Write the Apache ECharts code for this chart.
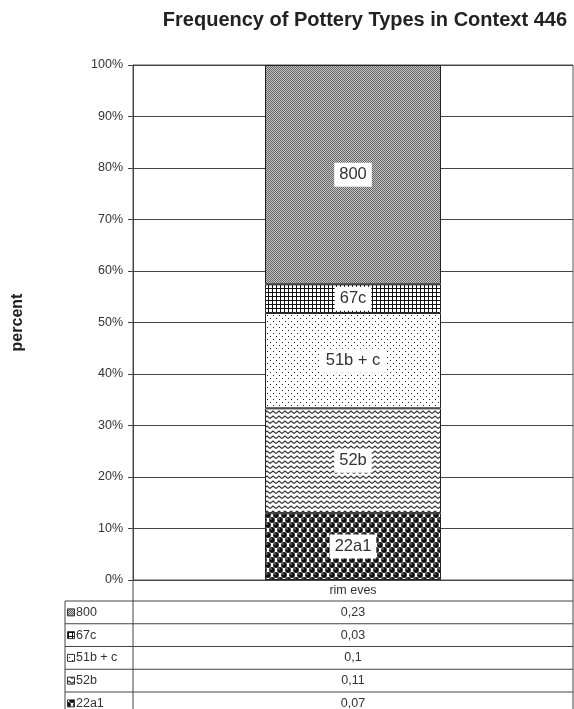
<!DOCTYPE html>
<html lang="en">
<head>
    <meta charset="UTF-8">
    <title>Frequency of Pottery Types in Context 446</title>
    <script src="https://cdn.jsdelivr.net/npm/echarts@6/dist/echarts.min.js"></script>
    <style>
        html, body { margin: 0; padding: 0; background: #fff; }
        #main { width: 574px; height: 709px; }
    </style>
</head>
<body>
    <div id="main"></div>
    <script>
        // data, stack order bottom -> top
        var categories = ['rim eves'];
        var typeNames = ['22a1', '52b', '51b + c', '67c', '800'];
        var rimEves = [0.07, 0.11, 0.1, 0.03, 0.23];
        var tableOrder = ['800', '67c', '51b + c', '52b', '22a1'];

        var FONT = 'Liberation Sans, Arial, sans-serif';

        // small canvas tiles used as fill patterns
        function makePattern(w, h, draw) {
            var c = document.createElement('canvas');
            c.width = w;
            c.height = h;
            var ctx = c.getContext('2d');
            draw(ctx, w, h);
            return { image: c, repeat: 'repeat' };
        }

        var patterns = {
            '800': makePattern(2, 2, function (ctx) {
                ctx.fillStyle = '#c4c4c4';
                ctx.fillRect(0, 0, 2, 2);
                ctx.fillStyle = '#666';
                ctx.fillRect(0, 0, 1, 1);
                ctx.fillRect(1, 1, 1, 1);
            }),
            '67c': makePattern(4, 4, function (ctx) {
                ctx.fillStyle = '#fff';
                ctx.fillRect(0, 0, 4, 4);
                ctx.fillStyle = '#111';
                ctx.fillRect(0, 0, 4, 1);
                ctx.fillRect(0, 0, 1, 4);
            }),
            '51b + c': makePattern(6, 6, function (ctx) {
                ctx.fillStyle = '#fff';
                ctx.fillRect(0, 0, 6, 6);
                ctx.fillStyle = '#222';
                ctx.fillRect(0, 0, 1, 1);
                ctx.fillRect(3, 3, 1, 1);
            }),
            '52b': makePattern(6, 5, function (ctx) {
                ctx.fillStyle = '#fff';
                ctx.fillRect(0, 0, 6, 5);
                ctx.strokeStyle = '#333';
                ctx.lineWidth = 1.1;
                ctx.beginPath();
                ctx.moveTo(0, 3.5);
                ctx.lineTo(3, 1);
                ctx.lineTo(6, 3.5);
                ctx.stroke();
            }),
            '22a1': makePattern(8, 10, function (ctx) {
                ctx.fillStyle = '#fff';
                ctx.fillRect(0, 0, 8, 10);
                var pts = [[0, 0], [8, 0], [0, 10], [8, 10], [4, 5]];
                pts.forEach(function (p) {
                    ctx.fillStyle = '#111';
                    ctx.beginPath();
                    ctx.arc(p[0], p[1], 2.9, 0, Math.PI * 2);
                    ctx.fill();
                    ctx.fillStyle = '#bbb';
                    ctx.beginPath();
                    ctx.arc(p[0] - 1, p[1] - 1, 0.7, 0, Math.PI * 2);
                    ctx.fill();
                });
            })
        };

        var total = rimEves.reduce(function (a, b) { return a + b; }, 0);

        var series = typeNames.map(function (name, i) {
            return {
                name: name,
                type: 'bar',
                stack: 'all',
                barWidth: 176,
                data: [rimEves[i] / total * 100],
                itemStyle: {
                    color: patterns[name],
                    borderColor: '#222',
                    borderWidth: 1
                },
                label: {
                    show: true,
                    position: 'inside',
                    formatter: name,
                    backgroundColor: '#fff',
                    padding: [4, 5, 3, 5],
                    fontSize: 16.5,
                    color: '#333',
                    fontFamily: FONT
                }
            };
        });

        // data table under the plot
        var plotLeft = 133, plotRight = 573, tableLeft = 65;
        var headTop = 580, rowTop = 601, rowH = 22.75;
        var lineStyle = { stroke: '#444', lineWidth: 1 };
        var graphics = [];
        graphics.push({ type: 'line', shape: { x1: plotLeft, y1: headTop, x2: plotLeft, y2: 709 }, style: lineStyle });
        graphics.push({ type: 'line', shape: { x1: plotRight, y1: headTop, x2: plotRight, y2: 709 }, style: lineStyle });
        graphics.push({ type: 'line', shape: { x1: tableLeft, y1: rowTop, x2: tableLeft, y2: 709 }, style: lineStyle });
        tableOrder.forEach(function (name, r) {
            var y = rowTop + r * rowH;
            var v = rimEves[typeNames.indexOf(name)];
            graphics.push({ type: 'line', shape: { x1: tableLeft, y1: y, x2: plotRight, y2: y }, style: lineStyle });
            graphics.push({
                type: 'rect',
                shape: { x: 67.5, y: y + rowH / 2 - 3.5, width: 7, height: 7 },
                style: { fill: patterns[name], stroke: '#333', lineWidth: 1 }
            });
            graphics.push({
                type: 'text',
                style: {
                    text: name, x: 76, y: y + rowH / 2, verticalAlign: 'middle',
                    font: '12.5px ' + FONT, fill: '#333'
                }
            });
            graphics.push({
                type: 'text',
                style: {
                    text: String(v).replace('.', ','), x: (plotLeft + plotRight) / 2, y: y + rowH / 2,
                    align: 'center', verticalAlign: 'middle', font: '12.5px ' + FONT, fill: '#333'
                }
            });
        });

        var myChart = echarts.init(document.getElementById('main'));
        var option = {
            animation: false,
            title: {
                text: 'Frequency of Pottery Types in Context 446',
                right: 2,
                top: 5,
                textStyle: { fontSize: 20, fontWeight: 'bold', color: '#222', fontFamily: FONT }
            },
            grid: {
                left: plotLeft, right: 574 - plotRight, top: 65, bottom: 709 - headTop,
                show: true, borderColor: '#555', borderWidth: 1
            },
            xAxis: {
                type: 'category',
                data: categories,
                axisLine: { lineStyle: { color: '#444' } },
                axisTick: { show: false },
                axisLabel: { fontSize: 12.5, color: '#333', margin: 4, fontFamily: FONT }
            },
            yAxis: {
                type: 'value',
                min: 0,
                max: 100,
                interval: 10,
                name: 'percent',
                nameLocation: 'middle',
                nameGap: 107,
                nameTextStyle: { fontSize: 16, fontWeight: 'bold', color: '#222', fontFamily: FONT },
                axisLine: { show: true, lineStyle: { color: '#444' } },
                axisTick: { show: true, length: 5, lineStyle: { color: '#444' } },
                axisLabel: { formatter: '{value}%', fontSize: 12.5, color: '#333', margin: 10, fontFamily: FONT },
                splitLine: { lineStyle: { color: '#444' } }
            },
            series: series,
            graphic: graphics
        };
        myChart.setOption(option);
    </script>
</body>
</html>
